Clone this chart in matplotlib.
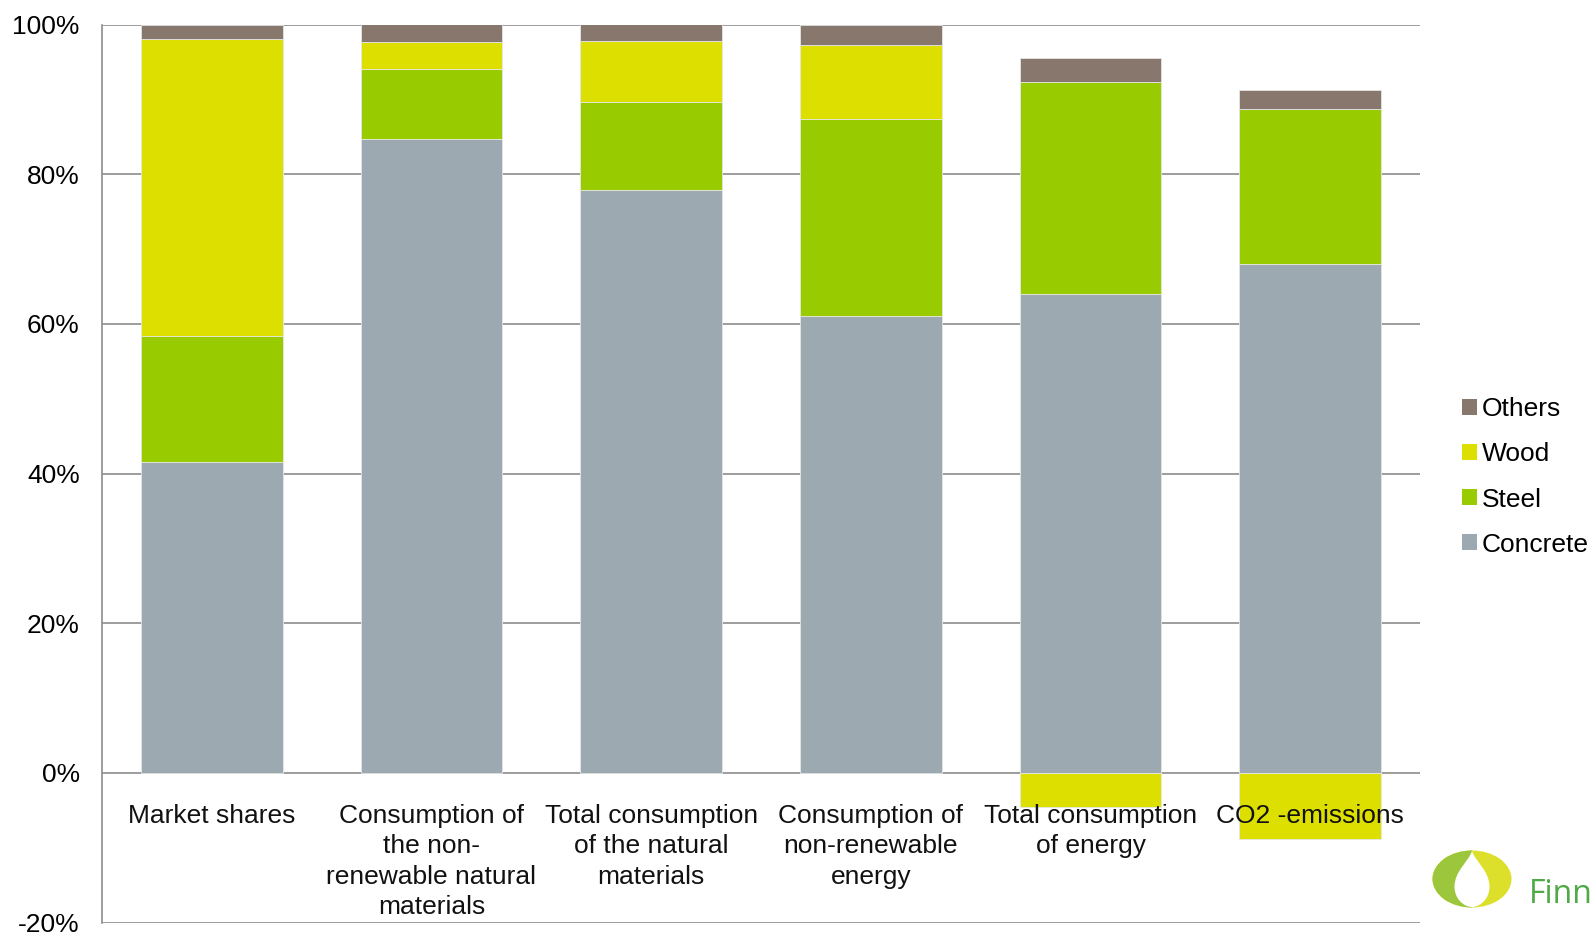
import numpy as np
import matplotlib
matplotlib.use("Agg")
import matplotlib.pyplot as plt
from matplotlib.patches import Ellipse, PathPatch, Rectangle
from matplotlib.path import Path
from matplotlib.ticker import FuncFormatter
import matplotlib.transforms as mtransforms

plt.rcParams['font.family'] = ['Liberation Sans', 'DejaVu Sans']

categories = [
    "Market shares",
    "Consumption of\nthe non-\nrenewable natural\nmaterials",
    "Total consumption\nof the natural\nmaterials",
    "Consumption of\nnon-renewable\nenergy",
    "Total consumption\nof energy",
    "CO2 -emissions",
]
concrete = [41.5, 84.7, 77.9, 61.1, 64.0, 68.0]
steel = [16.9, 9.4, 11.7, 26.3, 28.3, 20.7]
wood = [39.6, 3.5, 8.2, 9.8, -4.5, -8.8]
others = [2.0, 2.4, 2.2, 2.8, 3.2, 2.5]
series_names = ["Concrete", "Steel", "Wood", "Others"]
colors = ["#9DA9B0", "#99CC00", "#DDDF00", "#87776D"]
yticks = [-20, 0, 20, 40, 60, 80, 100]

W, H = 1593, 934
fig = plt.figure(figsize=(W / 100, H / 100), dpi=100)
ax = fig.add_axes([102 / W, 1 - 922.5 / H, (1420 - 102) / W, (922.5 - 24.5) / H])

x = np.arange(len(categories))
c = np.array(concrete)
s = np.array(steel)
w = np.array(wood)
o = np.array(others)
bw = 0.644
ec = "#e6e6e6"
ax.bar(x, c, bw, color=colors[0], edgecolor=ec, linewidth=0.6, zorder=3, label=series_names[0])
ax.bar(x, s, bw, bottom=c, color=colors[1], edgecolor=ec, linewidth=0.6, zorder=3, label=series_names[1])
wood_bottom = np.where(w >= 0, c + s, 0)
ax.bar(x, w, bw, bottom=wood_bottom, color=colors[2], edgecolor=ec, linewidth=0.6, zorder=3, label=series_names[2])
ax.bar(x, o, bw, bottom=c + s + np.maximum(w, 0), color=colors[3], edgecolor=ec, linewidth=0.6, zorder=3, label=series_names[3])

ax.set_xlim(-0.5, len(categories) - 0.5)
ax.set_ylim(-20, 100)
ax.set_yticks(yticks)
ax.yaxis.set_major_formatter(FuncFormatter(lambda v, p: f"{int(v)}%"))
ax.tick_params(axis='y', length=0, pad=16, labelsize=19)
ax.set_xticks([])
ax.grid(axis='y', color='#8c8c8c', linewidth=1.2, zorder=1)
for sp in ['top', 'right', 'bottom']:
    ax.spines[sp].set_visible(False)
ax.spines['left'].set_color('#8c8c8c')
ax.spines['left'].set_linewidth(1.2)

offset = mtransforms.offset_copy(ax.transData, fig=fig, x=0, y=-31, units='dots')
for i, lab in enumerate(categories):
    ax.text(x[i], 0, lab, transform=offset, ha='center', va='top', fontsize=19,
            linespacing=1.34, zorder=5, color='#111111')

# legend
handles, labels = ax.get_legend_handles_labels()
leg = fig.legend(handles[::-1], labels[::-1], loc='center left',
                 bbox_to_anchor=(1449 / W, 1 - 477 / H), frameon=False,
                 fontsize=19, handlelength=0.55, handleheight=0.55,
                 handletextpad=0.2, labelspacing=0.8, borderpad=0)
for h in leg.legend_handles:
    h.set_edgecolor('none')

# logo
lax = fig.add_axes([1420 / W, 0, (W - 1420) / W, 120 / H])
lax.set_xlim(1420, W)
lax.set_ylim(934, 814)
lax.axis('off')
cx, cy, ew, eh = 1472, 879, 79, 57
lax.add_patch(Ellipse((cx, cy), ew, eh, color='#DDE02A', lw=0))
g = Ellipse((cx, cy), ew, eh, color='#9CC63C', lw=0)
lax.add_patch(g)
clip = Rectangle((cx - ew, cy - eh), ew, 2 * eh, transform=lax.transData)
g.set_clip_path(clip)
verts = [
    (cx, cy - 28),
    (cx + 3, cy - 18), (cx + 17.5, cy - 8), (cx + 17.5, cy + 7.7),
    (cx + 17.5, cy + 20), (cx + 8, cy + 28), (cx, cy + 28),
    (cx - 8, cy + 28), (cx - 17.5, cy + 20), (cx - 17.5, cy + 7.7),
    (cx - 17.5, cy - 8), (cx - 3, cy - 18), (cx, cy - 28),
]
codes = [Path.MOVETO] + [Path.CURVE4] * 12
lax.add_patch(PathPatch(Path(verts, codes), facecolor='white', lw=0))
fig.text(1529 / W, 1 - 903 / H, "Finn", fontsize=23, color='#4DAA44',
         family='Open Sans', ha='left', va='baseline')

fig.savefig("out.png", dpi=100, facecolor='white')
